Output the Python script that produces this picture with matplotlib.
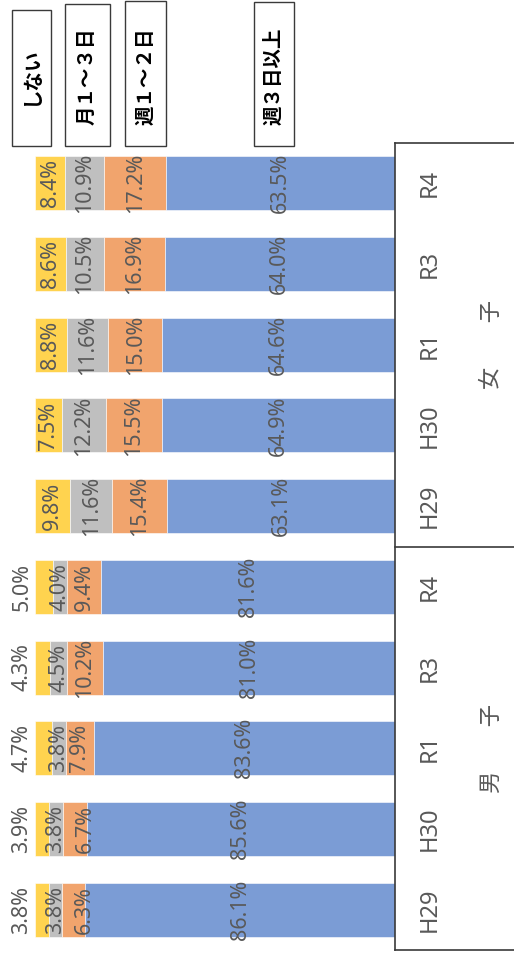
import matplotlib
matplotlib.use('Agg')
import matplotlib.pyplot as plt
import matplotlib.patches as patches
import matplotlib.transforms as mtransforms
import numpy as np

W, H = 514, 955

plt.rcParams['font.family'] = ['Noto Sans', 'Noto Sans CJK JP']

# bottom to top: 男子 H29..R4, then 女子 H29..R4
years = ['H29', 'H30', 'R1', 'R3', 'R4']
groups = ['男　　子', '女　　子']
series = ['しない', '月１～３日', '週１～２日', '週３日以上']
colors = ['#FFD34F', '#BFBFBF', '#F1A46D', '#7B9CD5']

none_pct = [3.8, 3.9, 4.7, 4.3, 5.0, 9.8, 7.5, 8.8, 8.6, 8.4]
monthly_pct = [3.8, 3.8, 3.8, 4.5, 4.0, 11.6, 12.2, 11.6, 10.5, 10.9]
weekly12_pct = [6.3, 6.7, 7.9, 10.2, 9.4, 15.4, 15.5, 15.0, 16.9, 17.2]
weekly3_pct = [86.1, 85.6, 83.6, 81.0, 81.6, 63.1, 64.9, 64.6, 64.0, 63.5]

LABEL_COLOR = '#595959'
LINE_COLOR = '#3a3a3a'

fig = plt.figure(figsize=(W / 100, H / 100), dpi=100)
ax = fig.add_axes([35 / W, 5 / H, 360 / W, 807 / H])

data = [none_pct, monthly_pct, weekly12_pct, weekly3_pct]
y = np.arange(len(none_pct))
left = np.zeros(len(y))
for k, (vals, c) in enumerate(zip(data, colors)):
    vals = np.array(vals)
    ax.barh(y, vals, left=left, height=0.67, color=c,
            edgecolor='white', linewidth=0.4)
    for i, v in enumerate(vals):
        xc = left[i] + v / 2
        if k == 0 and i < 5:
            # boys' "しない" share is too thin, label sits left of the bar
            xc = -3.6
        if k == 2 and i < 2:
            xc += 3
        ax.text(xc, i, f'{v:.1f}%', rotation=90, ha='center', va='center',
                fontsize=15.5, color=LABEL_COLOR, clip_on=False)
    left += vals

ax.set_xlim(0, 100)
ax.set_ylim(-0.5, 9.5)
ax.set_xticks([])
ax.set_yticks([])
for side in ['top', 'left', 'bottom']:
    ax.spines[side].set_visible(False)
ax.spines['right'].set_color(LINE_COLOR)
ax.spines['right'].set_linewidth(1.2)

trans = mtransforms.blended_transform_factory(ax.transAxes, ax.transData)
for i, yr in enumerate(years * 2):
    ax.text(1.097, i, yr, transform=trans, rotation=90, ha='center',
            va='center', fontsize=17, color=LABEL_COLOR)
for g, name in enumerate(groups):
    ax.text(1.267, 2 + 5 * g, name, transform=trans, rotation=90,
            ha='center', va='center', fontsize=16, color=LABEL_COLOR,
            family='Noto Sans CJK JP')
for yv in [-0.5, 4.5, 9.5]:
    ax.plot([1, 1.34], [yv, yv], transform=trans, clip_on=False,
            color=LINE_COLOR, lw=1.2)

# legend: plain text boxes above the bars
legend_boxes = [(12, 10, 51, 146), (65, 4, 110, 146),
                (125, 1, 166, 146), (254, 2, 294, 146)]
for (x0, y0, x1, y1), name in zip(legend_boxes, series):
    rect = patches.Rectangle((x0 / W, 1 - y1 / H), (x1 - x0) / W,
                             (y1 - y0) / H, transform=fig.transFigure,
                             fill=False, edgecolor=LINE_COLOR, lw=1)
    fig.add_artist(rect)
    fig.text((x0 + x1) / 2 / W, 1 - 76 / H, name, rotation=90,
             ha='center', va='center', fontsize=14, fontweight='bold',
             color='black', family='Noto Sans CJK JP')

fig.savefig('out.png', dpi=100)
